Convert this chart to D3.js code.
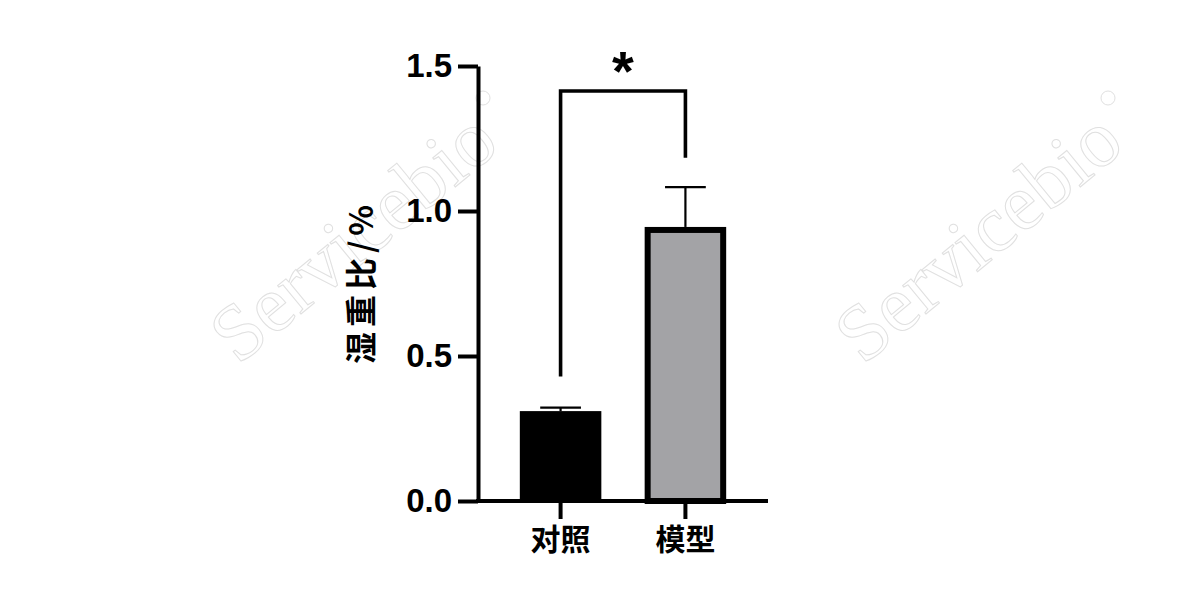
<!DOCTYPE html>
<html>
<head>
<meta charset="utf-8">
<script src="https://cdn.jsdelivr.net/npm/d3@7"></script>
<style>
  html, body { margin: 0; padding: 0; background: #fff; }
  svg { display: block; }
</style>
</head>
<body>
<div id="chart"></div>
<script>
// data
const categories = ['对照', '模型'];
const means = [0.31, 0.945];
const errUpper = [0.322, 1.082];
const barColors = ['#000000', '#a3a3a6'];
const yTicks = [0.0, 0.5, 1.0, 1.5];
const yLabel = '湿重比/%';
// significance bracket: [top, left leg end, right leg end]
const bracket = [1.414, 0.429, 1.184];

const width = 1200, height = 600;

const svg = d3.select('#chart')
  .append('svg')
  .attr('width', width)
  .attr('height', height);

// faint watermark
const wm = svg.append('g')
  .attr('fill', 'none')
  .attr('stroke', '#e0e0e0')
  .attr('stroke-width', 1)
  .attr('font-family', '"Liberation Serif", "DejaVu Serif", serif')
  .attr('font-size', 80);

[[238, 366], [863, 366]].forEach(([x0, y0]) => {
  wm.append('text')
    .attr('transform', `translate(${x0},${y0}) rotate(-39.5)`)
    .text('Servicebio');
  wm.append('circle')
    .attr('cx', x0 + 245).attr('cy', y0 - 268).attr('r', 7);
});

// scales
const x = d3.scaleBand()
  .domain(categories)
  .range([478, 768])
  .paddingInner(0.347)
  .paddingOuter(0.335);

const y = d3.scaleLinear()
  .domain([0, 1.5])
  .range([501, 66]);

const bw = x.bandwidth();

// bars
const bars = svg.append('g');
categories.forEach((c, i) => {
  const sw = i === 0 ? 0 : 6;
  bars.append('rect')
    .attr('x', x(c) + sw / 2)
    .attr('y', y(means[i]) + sw / 2)
    .attr('width', bw - sw)
    .attr('height', y(0) - y(means[i]) - sw / 2)
    .attr('fill', barColors[i])
    .attr('stroke', sw ? '#000' : 'none')
    .attr('stroke-width', sw);
});

// error bars (upper only)
const errs = svg.append('g')
  .attr('stroke', '#000')
  .attr('stroke-width', 2.2);
categories.forEach((c, i) => {
  const cx = x(c) + bw / 2;
  errs.append('line')
    .attr('x1', cx).attr('x2', cx)
    .attr('y1', y(means[i])).attr('y2', y(errUpper[i]));
  errs.append('line')
    .attr('x1', cx - bw / 4).attr('x2', cx + bw / 4)
    .attr('y1', y(errUpper[i])).attr('y2', y(errUpper[i]));
});

// y axis
const yAxis = svg.append('g')
  .attr('transform', 'translate(478,0)')
  .call(d3.axisLeft(y)
    .tickValues(yTicks)
    .tickFormat(d3.format('.1f'))
    .tickSize(20)
    .tickSizeOuter(0)
    .tickPadding(6));
yAxis.select('.domain').attr('stroke-width', 4);
yAxis.selectAll('.tick line').attr('stroke-width', 4);
yAxis.selectAll('.tick text')
  .attr('font-family', '"Liberation Sans", Arial, sans-serif')
  .attr('font-weight', 'bold')
  .attr('font-size', 33)
  .attr('fill', '#000');

// x axis
const xAxis = svg.append('g')
  .attr('transform', `translate(0,${y(0)})`)
  .call(d3.axisBottom(x)
    .tickSize(18)
    .tickSizeOuter(0)
    .tickPadding(10));
xAxis.select('.domain').attr('stroke-width', 4).attr('d', 'M476,0H768');
xAxis.selectAll('.tick line').attr('stroke-width', 4);
xAxis.selectAll('.tick text')
  .attr('font-family', '"Noto Sans CJK SC", sans-serif')
  .attr('font-weight', 'bold')
  .attr('font-size', 30)
  .attr('fill', '#000');

// y label
svg.append('text')
  .attr('transform', 'translate(373,282) rotate(-90)')
  .attr('text-anchor', 'middle')
  .attr('font-family', '"Noto Sans CJK SC", sans-serif')
  .attr('font-weight', 'bold')
  .attr('font-size', 32)
  .attr('letter-spacing', 5)
  .text(yLabel);

// significance bracket
const c0 = x(categories[0]) + bw / 2;
const c1 = x(categories[1]) + bw / 2;
svg.append('path')
  .attr('fill', 'none')
  .attr('stroke', '#000')
  .attr('stroke-width', 3.6)
  .attr('d', `M${c0},${y(bracket[1])}V${y(bracket[0])}H${c1}V${y(bracket[2])}`);

svg.append('text')
  .attr('x', (c0 + c1) / 2)
  .attr('y', 90)
  .attr('text-anchor', 'middle')
  .attr('font-family', '"Liberation Sans", Arial, sans-serif')
  .attr('font-weight', 'bold')
  .attr('font-size', 56)
  .text('*');
</script>
</body>
</html>
